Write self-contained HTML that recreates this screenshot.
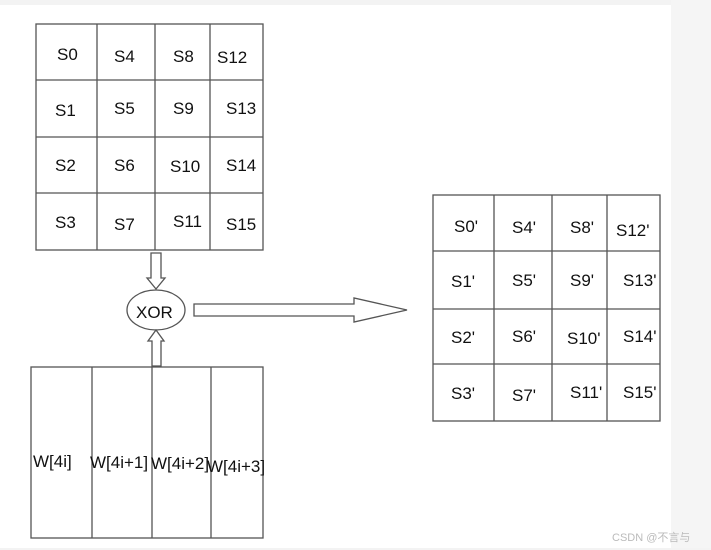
<!DOCTYPE html>
<html><head><style>
html,body{margin:0;padding:0;background:#fff;}
svg{display:block;}
text{font-family:"Liberation Sans",sans-serif;font-size:17px;fill:#111;}
</style></head><body>
<svg width="711" height="550" viewBox="0 0 711 550" xmlns="http://www.w3.org/2000/svg">
<rect x="0" y="0" width="711" height="550" fill="#fff"/>
<rect x="0" y="0" width="711" height="5" fill="#f3f3f3"/>
<rect x="671" y="0" width="40" height="550" fill="#f5f5f5"/>
<rect x="0" y="548" width="711" height="2" fill="#f3f3f3"/>
<g stroke="#555" stroke-width="1.3" fill="none">
<rect x="36" y="24" width="227" height="226"/>
<line x1="97" y1="24" x2="97" y2="250"/><line x1="155" y1="24" x2="155" y2="250"/><line x1="210" y1="24" x2="210" y2="250"/>
<line x1="36" y1="80" x2="263" y2="80"/><line x1="36" y1="137" x2="263" y2="137"/><line x1="36" y1="193" x2="263" y2="193"/>
<rect x="433" y="195" width="227" height="226"/>
<line x1="494" y1="195" x2="494" y2="421"/><line x1="552" y1="195" x2="552" y2="421"/><line x1="607" y1="195" x2="607" y2="421"/>
<line x1="433" y1="251" x2="660" y2="251"/><line x1="433" y1="309" x2="660" y2="309"/><line x1="433" y1="364" x2="660" y2="364"/>
<rect x="31" y="367" width="232" height="171"/>
<line x1="92" y1="367" x2="92" y2="538"/><line x1="152" y1="367" x2="152" y2="538"/><line x1="211" y1="367" x2="211" y2="538"/>
<ellipse cx="156" cy="310" rx="29" ry="20"/>
<polygon points="151,253 161,253 161,278 165,278 156,289 147,278 151,278"/>
<polygon points="152,366 161,366 161,341 164,341 156,330 148,341 152,341"/>
<polygon points="194,304 354,304 354,298 407,310 354,322 354,316 194,316"/>
</g>
<g>
<text x="57" y="60">S0</text><text x="114" y="62">S4</text><text x="173" y="62">S8</text><text x="217" y="63">S12</text>
<text x="55" y="116">S1</text><text x="114" y="114">S5</text><text x="173" y="114">S9</text><text x="226" y="114">S13</text>
<text x="55" y="171">S2</text><text x="114" y="171">S6</text><text x="170" y="172">S10</text><text x="226" y="171">S14</text>
<text x="55" y="228">S3</text><text x="114" y="230">S7</text><text x="173" y="227">S11</text><text x="226" y="230">S15</text>
<text x="454" y="232">S0'</text><text x="512" y="233">S4'</text><text x="570" y="233">S8'</text><text x="616" y="236">S12'</text>
<text x="451" y="287">S1'</text><text x="512" y="286">S5'</text><text x="570" y="286">S9'</text><text x="623" y="286">S13'</text>
<text x="451" y="343">S2'</text><text x="512" y="342">S6'</text><text x="567" y="344">S10'</text><text x="623" y="342">S14'</text>
<text x="451" y="399">S3'</text><text x="512" y="401">S7'</text><text x="570" y="398">S11'</text><text x="623" y="398">S15'</text>
<text x="136" y="318">XOR</text>
<text x="33" y="467">W[4i]</text><text x="90" y="468">W[4i+1]</text><text x="151" y="469">W[4i+2]</text><text x="207" y="472">W[4i+3]</text>
<text x="612" y="541" style="font-size:11px;fill:#bbb;font-family:'Liberation Sans','Noto Sans CJK SC',sans-serif">CSDN @不言与</text>
</g>
</svg>
</body></html>
